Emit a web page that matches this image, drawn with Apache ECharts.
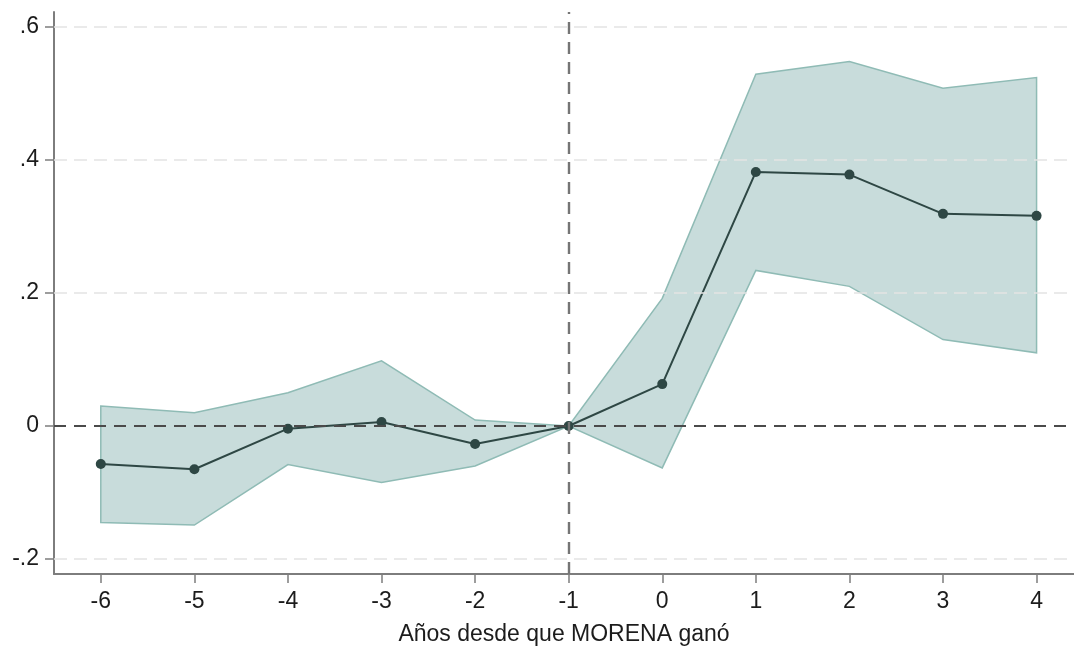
<!DOCTYPE html>
<html>
<head>
<meta charset="utf-8">
<script src="https://cdn.jsdelivr.net/npm/echarts@6/dist/echarts.min.js"></script>
<style>
  html, body { margin: 0; padding: 0; background: #ffffff; }
  #chart { width: 1074px; height: 648px; }
</style>
</head>
<body>
<div id="chart"></div>
<script>
// Event-study estimates: years relative to the election MORENA won
const years = [-6, -5, -4, -3, -2, -1, 0, 1, 2, 3, 4];
const coef  = [-0.057, -0.065, -0.004, 0.006, -0.027, 0, 0.063, 0.382, 0.378, 0.319, 0.316];
const upper = [0.030, 0.020, 0.050, 0.098, 0.009, 0, 0.192, 0.529, 0.548, 0.508, 0.524];
const lower = [-0.145, -0.149, -0.058, -0.085, -0.060, 0, -0.063, 0.234, 0.210, 0.130, 0.110];

const yTicks = [-0.2, 0, 0.2, 0.4, 0.6];
const xTitle = 'Años desde que MORENA ganó';
const refYear = -1;

const FONT = '"Liberation Sans", Arial, Helvetica, sans-serif';
const TEXT = '#1c1c1c';
const AXIS = '#7d7d7d';

function fmtY(v) {
  if (Math.abs(v) < 1e-9) return '0';
  const s = v.toFixed(1);
  return s.replace(/^(-?)0\./, '$1.');
}

const chart = echarts.init(document.getElementById('chart'), null, { renderer: 'canvas' });

// confidence band polygon: upper edge left->right, lower edge right->left
const bandData = years.map((x, i) => [x, lower[i], upper[i]]);

chart.setOption({
  animation: false,
  backgroundColor: '#ffffff',
  grid: { left: 54, right: 0, top: 12, bottom: 74, containLabel: false, outerBoundsMode: 'none' },
  xAxis: {
    type: 'value',
    min: -6.5,
    max: 4.4,
    name: xTitle,
    nameLocation: 'middle',
    nameGap: 49,
    nameTextStyle: { fontFamily: FONT, fontSize: 23, color: TEXT },
    axisLine: { show: true, onZero: false, lineStyle: { color: AXIS, width: 2 } },
    axisTick: { show: true, customValues: years, length: 9, lineStyle: { color: AXIS, width: 1.5 } },
    axisLabel: {
      customValues: years, margin: 16,
      fontFamily: FONT, fontSize: 23, color: TEXT,
      formatter: v => String(v)
    },
    splitLine: { show: false }
  },
  yAxis: {
    type: 'value',
    min: -0.2225,
    max: 0.6225,
    axisLine: { show: true, onZero: false, lineStyle: { color: AXIS, width: 2 } },
    axisTick: { show: true, customValues: yTicks, length: 9, lineStyle: { color: AXIS, width: 1.5 } },
    axisLabel: {
      customValues: yTicks, margin: 15,
      fontFamily: FONT, fontSize: 23, color: TEXT,
      formatter: v => fmtY(v)
    },
    splitLine: { show: false }
  },
  series: [
    {
      // light dashed gridlines at the labelled y ticks
      type: 'line',
      data: [],
      silent: true,
      z: 1,
      markLine: {
        silent: true,
        symbol: ['none', 'none'],
        label: { show: false },
        lineStyle: { color: '#e4e4e4', type: [13, 7], width: 1.5 },
        data: yTicks.filter(v => v !== 0).map(v => ({ yAxis: v }))
      }
    },
    {
      type: 'custom',
      z: 2,
      silent: true,
      data: bandData,
      renderItem: function (params, api) {
        if (params.dataIndex !== 0) return null;
        const top = bandData.map(d => api.coord([d[0], d[2]]));
        const bot = bandData.slice().reverse().map(d => api.coord([d[0], d[1]]));
        return {
          type: 'polygon',
          shape: { points: top.concat(bot) },
          style: { fill: '#c8dcdb', stroke: '#8fbbb5', lineWidth: 1.5 }
        };
      }
    },
    {
      // reference lines: zero effect and the omitted year
      type: 'line',
      data: [],
      silent: true,
      z: 3,
      markLine: {
        silent: true,
        symbol: ['none', 'none'],
        label: { show: false },
        data: [
          { yAxis: 0, lineStyle: { color: '#4a4a4a', type: [12, 8], width: 2 } },
          { xAxis: refYear, lineStyle: { color: '#757575', type: [12, 8], width: 2.4 } }
        ]
      }
    },
    {
      type: 'line',
      z: 4,
      data: years.map((x, i) => [x, coef[i]]),
      symbol: 'circle',
      symbolSize: 10,
      showAllSymbol: true,
      lineStyle: { color: '#2e4744', width: 2 },
      itemStyle: { color: '#2e4744' }
    }
  ]
});
</script>
</body>
</html>
